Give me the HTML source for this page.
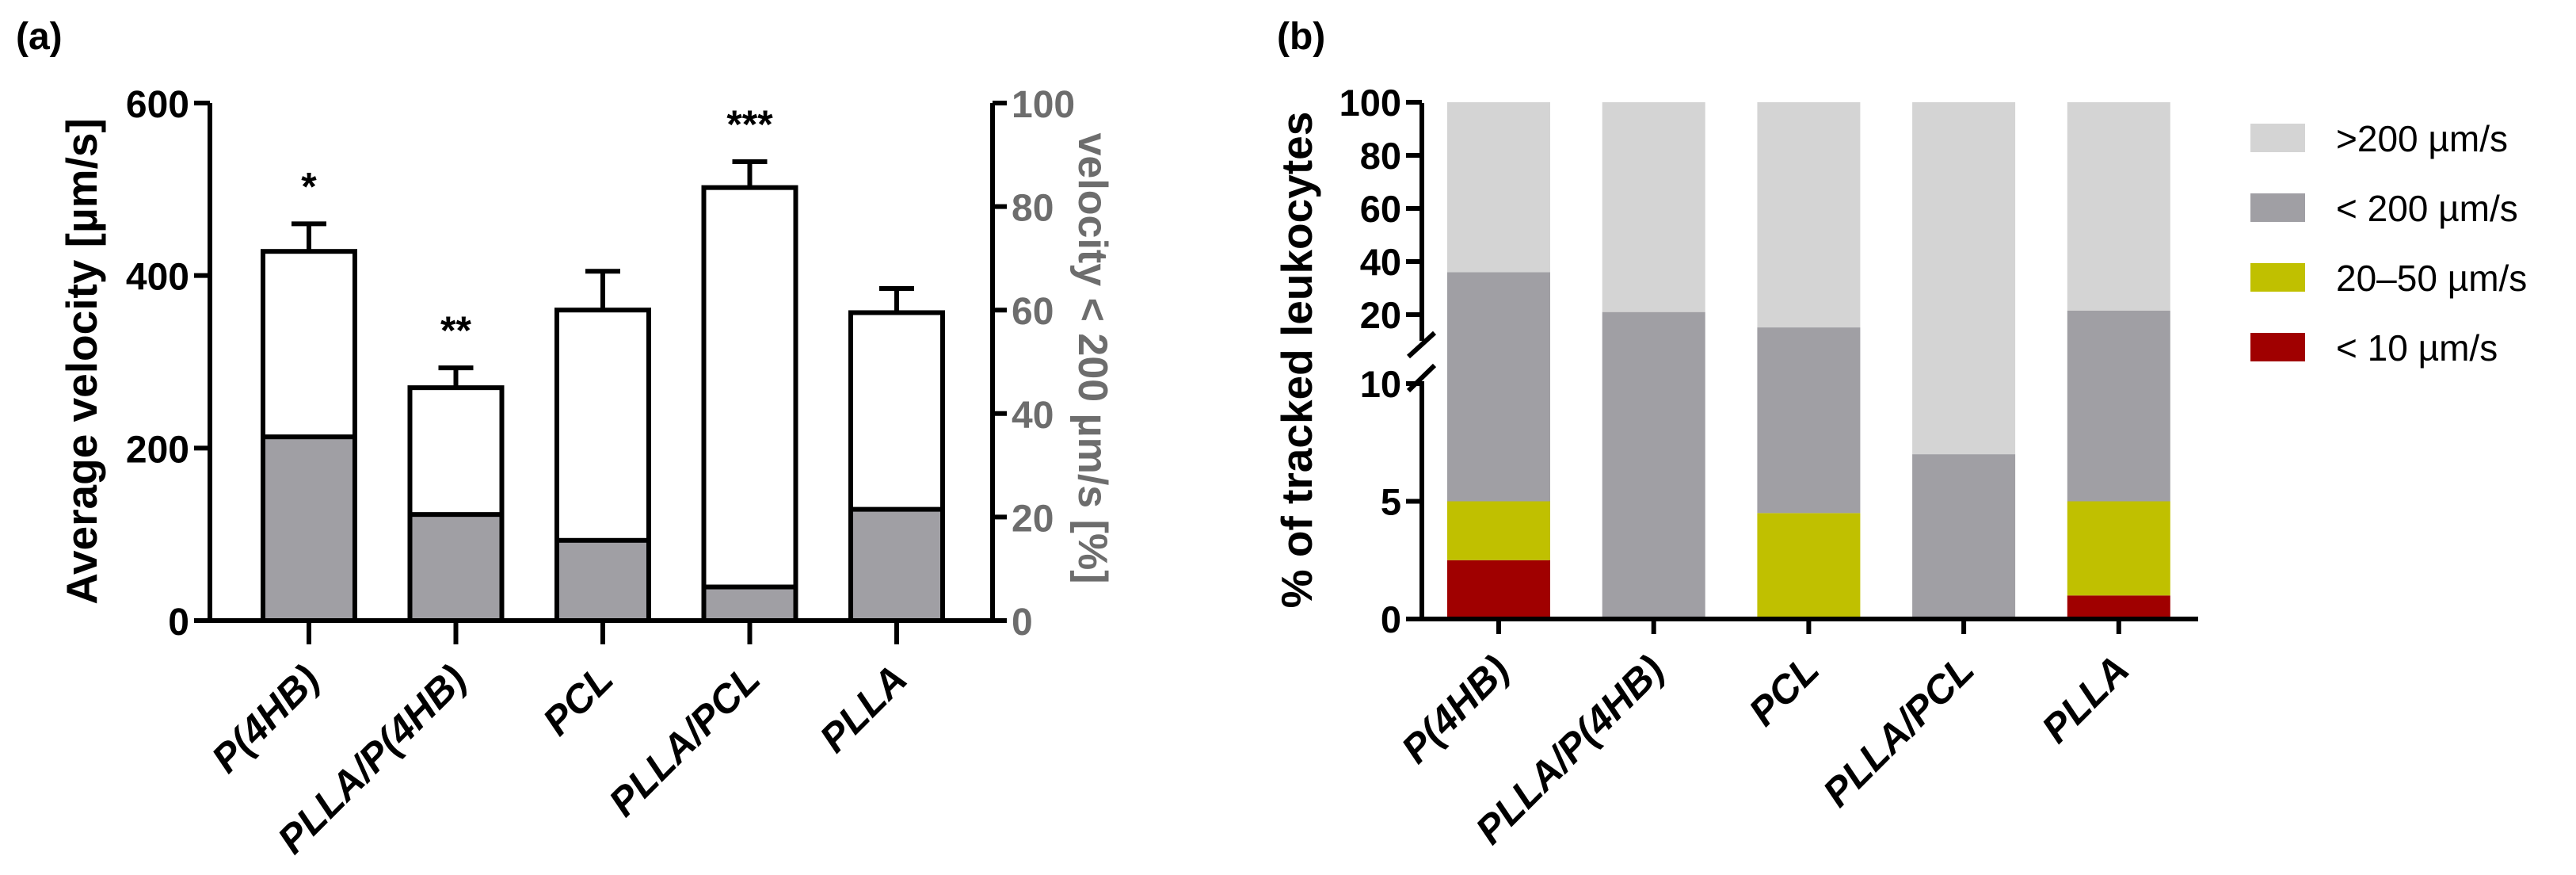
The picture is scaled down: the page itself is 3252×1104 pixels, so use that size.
<!DOCTYPE html>
<html><head><meta charset="utf-8"><style>
html,body{margin:0;padding:0;background:#fff;}
svg{display:block;font-family:"Liberation Sans",Arial,sans-serif;}
</style></head><body>
<svg id="s" width="3252" height="1104" viewBox="0 0 3252 1104" xmlns="http://www.w3.org/2000/svg">
<text x="20" y="62" font-size="48" font-weight="bold">(a)</text>
<text x="1612" y="62" font-size="48" font-weight="bold">(b)</text>
<g id="ga"></g>
<g id="gb"></g>
</svg>
<script>
const categories = ["P(4HB)","PLLA/P(4HB)","PCL","PLLA/PCL","PLLA"];
const velocity = [428, 270, 360, 502, 357];
const velocityErr = [32, 23, 45, 30, 28];
const pctBelow200 = [35.5, 20.5, 15.5, 6.5, 21.5];
const stars = ["*","**","","***",""];
const leftTicks = [0,200,400,600];
const rightTicks = [0,20,40,60,80,100];
const red10 = [2.5, 0, 0, 0, 1];
const yellow2050 = [2.5, 0, 4.5, 0, 4];
const grayBelow200 = [31, 21, 10.7, 7, 16.5];
const lowerTicks = [0,5,10];
const upperTicks = [20,40,60,80,100];
const legendLabels = [">200 µm/s","< 200 µm/s","20–50 µm/s","< 10 µm/s"];
const legendColors = ["#d4d4d4","#a09fa4","#c0c000","#a00000"];

const NS="http://www.w3.org/2000/svg";
function mk(p,t,a,txt){const e=document.createElementNS(NS,t);for(const k in a)e.setAttribute(k,a[k]);if(txt!==undefined)e.textContent=txt;p.appendChild(e);return e;}

// ---- Chart A ----
const ga=document.getElementById('ga');
const aL=265,aR=1253,aY0=783,aY1=130;
const yv=v=>aY0-(v/600)*(aY0-aY1);
const yp=v=>aY0-(v/100)*(aY0-aY1);
const xa=i=>390+i*185.5;
const bw=116;
categories.forEach((c,i)=>{
  const x=xa(i);
  let e=mk(ga,'line',{x1:x,x2:x,y1:yv(velocity[i]),y2:yv(velocity[i]+velocityErr[i]),stroke:'#000','stroke-width':6});
  
  e=mk(ga,'line',{x1:x-22,x2:x+22,y1:yv(velocity[i]+velocityErr[i]),y2:yv(velocity[i]+velocityErr[i]),stroke:'#000','stroke-width':6});
  
  e=mk(ga,'rect',{x:x-bw/2,y:yv(velocity[i]),width:bw,height:aY0-yv(velocity[i]),fill:'#fff',stroke:'#000','stroke-width':6});
  
  e=mk(ga,'rect',{x:x-bw/2,y:yp(pctBelow200[i]),width:bw,height:aY0-yp(pctBelow200[i]),fill:'#a09fa4',stroke:'#000','stroke-width':6});
  
  if(stars[i]){e=mk(ga,'text',{x:x,y:yv(velocity[i]+velocityErr[i])-30,'font-size':50,'font-weight':'bold','text-anchor':'middle'},stars[i]);
  }
  e=mk(ga,'line',{x1:x,x2:x,y1:aY0,y2:813,stroke:'#000','stroke-width':6});
  
  e=mk(ga,'text',{transform:`translate(${x+16},${860}) rotate(-45)`,'font-size':50,'font-weight':'bold','font-style':'italic','text-anchor':'end'},c);
  
});
let e=mk(ga,'path',{d:`M${aL},${aY1} V${aY0} H${aR} V${aY1}`,fill:'none',stroke:'#000','stroke-width':6});

leftTicks.forEach(t=>{
  let e=mk(ga,'line',{x1:aL-20,x2:aL,y1:yv(t),y2:yv(t),stroke:'#000','stroke-width':6});
  
  e=mk(ga,'text',{x:aL-26,y:yv(t)+18,'font-size':48,'font-weight':'bold','text-anchor':'end'},t);
  
});
rightTicks.forEach(t=>{
  let e=mk(ga,'line',{x1:aR,x2:aR+18,y1:yp(t),y2:yp(t),stroke:'#000','stroke-width':6});
  
  e=mk(ga,'text',{x:aR+24,y:yp(t)+18,'font-size':48,'font-weight':'bold',fill:'#6d6d6d'},t);
  
});
e=mk(ga,'text',{transform:'translate(122,456) rotate(-90)','font-size':55,'font-weight':'bold','text-anchor':'middle'},'Average velocity [µm/s]');

e=mk(ga,'text',{transform:'translate(1362,452) rotate(90)','font-size':52,'font-weight':'bold','text-anchor':'middle',fill:'#6d6d6d'},'velocity < 200 µm/s [%]');


// ---- Chart B ----
const gb=document.getElementById('gb');
const bL=1795,bR=2775,bY0=781;
const yb=v=> v<=10 ? bY0-v*29.7 : 397-(v-20)*3.35;
const xb=i=>1892+i*195.7;
const bw2=130;
categories.forEach((c,i)=>{
  const x=xb(i);
  const segs=[[0,red10[i],'#a00000','red'],[red10[i],red10[i]+yellow2050[i],'#c0c000','yellow']];
  const t2=red10[i]+yellow2050[i], t3=t2+grayBelow200[i];
  segs.push([t2,t3,'#a09fa4','gray'],[t3,100,'#d4d4d4','lightgray']);
  segs.forEach(s=>{ if(s[1]>s[0]){
    const e=mk(gb,'rect',{x:x-bw2/2,y:yb(s[1]),width:bw2,height:yb(s[0])-yb(s[1]),fill:s[2]});
    }});
  let e=mk(gb,'line',{x1:x,x2:x,y1:bY0,y2:800,stroke:'#000','stroke-width':6});
  
  e=mk(gb,'text',{transform:`translate(${x+16},${848}) rotate(-45)`,'font-size':50,'font-weight':'bold','font-style':'italic','text-anchor':'end'},c);
  
});
e=mk(gb,'path',{d:`M${bL},130 V430 M${bL},481 V${bY0} H${bR} M1778,450 L1811,420 M1778,493 L1811,461`,fill:'none',stroke:'#000','stroke-width':6});

lowerTicks.concat(upperTicks).forEach(t=>{
  let e=mk(gb,'line',{x1:bL-20,x2:bL,y1:yb(t),y2:yb(t),stroke:'#000','stroke-width':6});
  
  e=mk(gb,'text',{x:bL-26,y:yb(t)+17,'font-size':47,'font-weight':'bold','text-anchor':'end'},t);
  
});
e=mk(gb,'text',{transform:'translate(1656,454) rotate(-90)','font-size':55,'font-weight':'bold','text-anchor':'middle'},'% of tracked leukocytes');

legendLabels.forEach((l,i)=>{
  const y=174+i*88;
  let e=mk(gb,'rect',{x:2841,y:y-18,width:69,height:36,fill:legendColors[i]});
  
  e=mk(gb,'text',{x:2949,y:y+17,'font-size':46},l);
  
});
</script>
</body></html>
